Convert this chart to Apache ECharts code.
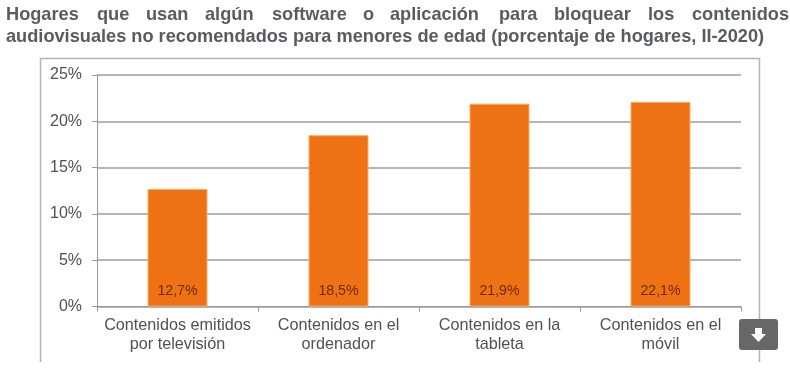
<!DOCTYPE html>
<html><head><meta charset="utf-8">
<style>html,body{margin:0;padding:0;background:#fff}#c{width:790px;height:374px}</style>
<script src="https://cdn.jsdelivr.net/npm/echarts@6/dist/echarts.min.js"></script>
</head><body><div id="c"></div>
<script>
const categories = ["Contenidos emitidos\npor televisión","Contenidos en el\nordenador","Contenidos en la\ntableta","Contenidos en el\nmóvil"];
const values = [12.7,18.5,21.9,22.1];
const titleWords = [["Hogares",6],["que",97],["usan",146],["algún",205],["software",272],["o",363],["aplicación",390],["para",499],["bloquear",554],["los",648],["contenidos",692]];
const titleLine2 = "audiovisuales no recomendados para menores de edad (porcentaje de hogares, II-2020)";
const titleStyle = {fontFamily:"Liberation Sans",fontWeight:"bold",fontSize:18.2,fill:"#585b60"};
const graphic = titleWords.map(([w,x])=>({type:"text",left:x,top:6,style:Object.assign({text:w},titleStyle)}));
graphic.push({type:"text",left:6,top:28,style:Object.assign({text:titleLine2},titleStyle)});
// frame
graphic.push({type:"polyline",shape:{points:[[40.5,362],[40.5,58.5],[759.5,58.5],[759.5,362]]},style:{stroke:"#b4b4b6",lineWidth:1.5,fill:null},z:0});
// download button
graphic.push({type:"rect",shape:{x:739,y:319,width:39,height:31,r:3},style:{fill:"#676767"},z:10});
graphic.push({type:"polygon",shape:{points:[[755,328],[762,328],[762,334],[766,334],[758.5,342],[751,334],[755,334]]},style:{fill:"#fff"},z:11});
const chart = echarts.init(document.getElementById("c"),null,{renderer:"canvas"});
chart.setOption({
  animation:false,
  backgroundColor:"#fff",
  graphic:graphic,
  grid:{left:97,right:49,top:75,height:231.5,containLabel:false},
  xAxis:{type:"category",data:categories,
    axisLine:{lineStyle:{color:"#9a9a9c",width:1}},
    axisTick:{show:true,alignWithLabel:false,length:5,lineStyle:{color:"#9a9a9c"}},
    axisLabel:{color:"#4f5154",fontFamily:"Liberation Sans",fontSize:16.2,lineHeight:19,margin:10,interval:0}},
  yAxis:{type:"value",min:0,max:25,interval:5,
    axisLine:{show:true,lineStyle:{color:"#9a9a9c"}},
    axisTick:{show:true,length:5,lineStyle:{color:"#9a9a9c"}},
    splitLine:{lineStyle:{color:"#9c9ca0",width:1.5}},
    axisLabel:{color:"#4f5154",fontFamily:"Liberation Sans",fontSize:16,margin:15,formatter:"{value}%"}},
  series:[{type:"bar",data:values,barWidth:60,
    itemStyle:{color:"#ee7213",borderColor:"#f6ad66",borderWidth:1},
    label:{show:true,position:"insideBottom",distance:8,color:"#6e2a0c",fontFamily:"Liberation Sans",fontSize:14.2,
      formatter:p=>p.value.toFixed(1).replace(".",",")+"%"}}]
});
</script></body></html>
